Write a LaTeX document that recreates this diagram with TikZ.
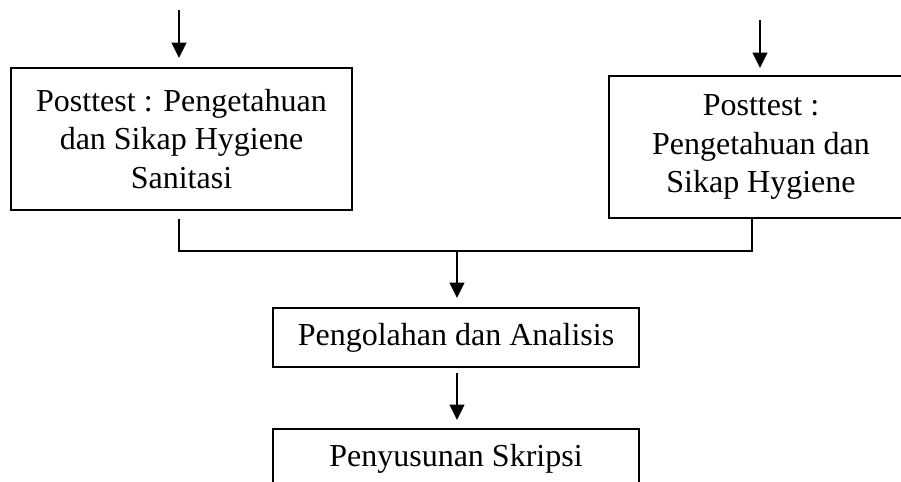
\documentclass[tikz,border=0pt]{standalone}
\usepackage{fontspec}
\setmainfont{Liberation Serif}
\usetikzlibrary{arrows.meta}
\begin{document}
\begin{tikzpicture}[x=0.75pt,y=-0.75pt,
  box/.style={draw, line width=1.3pt, inner sep=0pt, align=center,
    font=\fontsize{24}{29}\selectfont},
  flow/.style={line width=1.5pt, -{Triangle[width=11pt,length=11.5pt]}},
  link/.style={line width=1.3pt}]
\useasboundingbox (0,0) rectangle (901,482);
\clip (0,0) rectangle (901,482);
\node[box, minimum width=255.75pt, minimum height=106.5pt] (lb) at (181.5,139)
  {Posttest : Pengetahuan\\dan Sikap Hygiene\\Sanitasi};
\node[box, minimum width=228pt, minimum height=106.5pt] (rb) at (761,147)
  {Posttest :\\Pengetahuan dan\\Sikap Hygiene};
\node[box, minimum width=274.5pt, minimum height=44.25pt] (mb) at (456,337.5)
  {Pengolahan dan Analisis};
\node[box, minimum width=274.5pt, minimum height=44.25pt] (bb) at (456,458.5)
  {Penyusunan Skripsi};
\coordinate (lin) at (179,10);
\coordinate (rin) at (760,20);
\coordinate (lc) at (179,219);
\coordinate (rc) at (752,218);
\coordinate (jn) at (457,251);
\draw[flow] (lin) -- (179,58);
\draw[flow] (rin) -- (760,68);
\draw[link] (lc) |- (jn) -| (rc);
\draw[flow] (jn) -- (457,298);
\draw[flow] (457,373) -- (457,420);
\end{tikzpicture}
\end{document}
